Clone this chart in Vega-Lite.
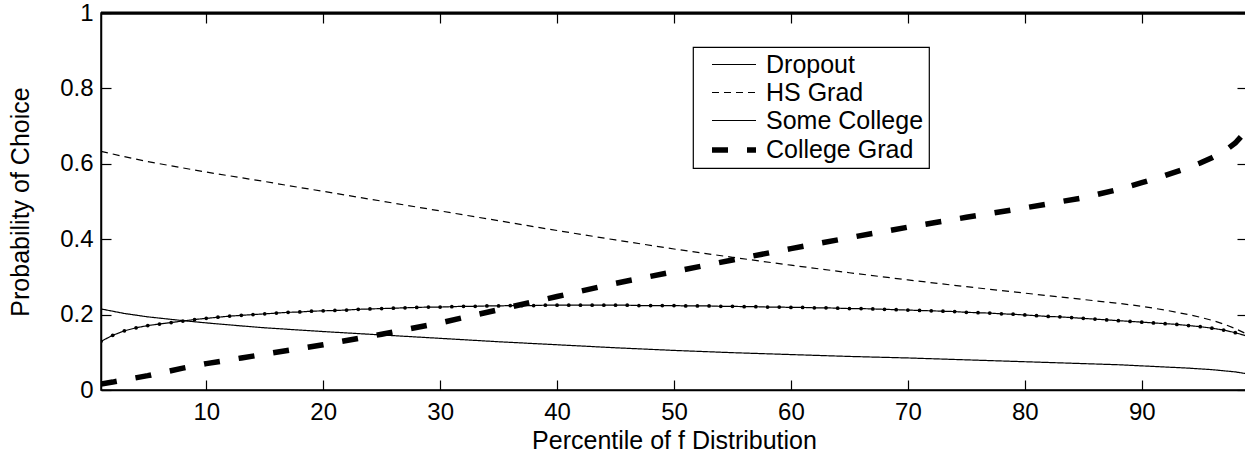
{
  "$schema": "https://vega.github.io/schema/vega-lite/v6.json",
  "autosize": "none",
  "padding": {"left": 101, "top": 13, "right": 0, "bottom": 69},
  "width": 1146,
  "height": 377,
  "background": "white",
  "config": {
    "font": "Liberation Sans",
    "view": {"stroke": "black", "strokeWidth": 1.5},
    "axis": {
      "grid": false,
      "domainColor": "black",
      "domainWidth": 1.5,
      "tickColor": "black",
      "tickWidth": 1.2,
      "tickSize": -10,
      "labelFont": "Liberation Sans",
      "labelFontSize": 24,
      "labelColor": "black",
      "titleFont": "Liberation Sans",
      "titleFontSize": 25,
      "titleFontWeight": "normal",
      "titleColor": "black"
    },
    "legend": {
      "orient": "none",
      "legendX": 592,
      "legendY": 34,
      "padding": 5,
      "strokeColor": "black",
      "strokeWidth": 1.2,
      "fillColor": "white",
      "labelFont": "Liberation Sans",
      "labelFontSize": 25,
      "labelColor": "black",
      "labelOffset": 18,
      "symbolType": "M-2,0H2",
      "symbolSize": 484,
      "symbolStrokeColor": "black",
      "symbolOffset": 22,
      "rowPadding": 2
    }
  },
  "datasets": {
    "main": [
      {"p": 1, "Dropout": 0.215, "HS Grad": 0.633, "College Grad": 0.016},
      {"p": 2, "Dropout": 0.209, "HS Grad": 0.626, "College Grad": 0.021},
      {"p": 3, "Dropout": 0.203, "HS Grad": 0.619, "College Grad": 0.027},
      {"p": 5, "Dropout": 0.194, "HS Grad": 0.606, "College Grad": 0.038},
      {"p": 8, "Dropout": 0.184, "HS Grad": 0.589, "College Grad": 0.058},
      {"p": 10, "Dropout": 0.178, "HS Grad": 0.578, "College Grad": 0.07},
      {"p": 13, "Dropout": 0.170, "HS Grad": 0.563, "College Grad": 0.085},
      {"p": 15, "Dropout": 0.165, "HS Grad": 0.553, "College Grad": 0.095},
      {"p": 18, "Dropout": 0.159, "HS Grad": 0.537, "College Grad": 0.11},
      {"p": 20, "Dropout": 0.155, "HS Grad": 0.527, "College Grad": 0.12},
      {"p": 25, "Dropout": 0.146, "HS Grad": 0.501, "College Grad": 0.148},
      {"p": 30, "Dropout": 0.137, "HS Grad": 0.475, "College Grad": 0.178},
      {"p": 35, "Dropout": 0.128, "HS Grad": 0.449, "College Grad": 0.213},
      {"p": 40, "Dropout": 0.120, "HS Grad": 0.423, "College Grad": 0.248},
      {"p": 45, "Dropout": 0.112, "HS Grad": 0.398, "College Grad": 0.283},
      {"p": 50, "Dropout": 0.105, "HS Grad": 0.374, "College Grad": 0.314},
      {"p": 55, "Dropout": 0.099, "HS Grad": 0.352, "College Grad": 0.345},
      {"p": 60, "Dropout": 0.094, "HS Grad": 0.331, "College Grad": 0.375},
      {"p": 65, "Dropout": 0.089, "HS Grad": 0.311, "College Grad": 0.404},
      {"p": 70, "Dropout": 0.085, "HS Grad": 0.292, "College Grad": 0.432},
      {"p": 75, "Dropout": 0.080, "HS Grad": 0.274, "College Grad": 0.458},
      {"p": 80, "Dropout": 0.075, "HS Grad": 0.257, "College Grad": 0.483},
      {"p": 85, "Dropout": 0.070, "HS Grad": 0.240, "College Grad": 0.51},
      {"p": 88, "Dropout": 0.067, "HS Grad": 0.230, "College Grad": 0.532},
      {"p": 90, "Dropout": 0.064, "HS Grad": 0.222, "College Grad": 0.55},
      {"p": 92, "Dropout": 0.061, "HS Grad": 0.212, "College Grad": 0.569},
      {"p": 94, "Dropout": 0.058, "HS Grad": 0.200, "College Grad": 0.59},
      {"p": 95, "Dropout": 0.056, "HS Grad": 0.193, "College Grad": 0.602},
      {"p": 96, "Dropout": 0.054, "HS Grad": 0.185, "College Grad": 0.616},
      {"p": 97, "Dropout": 0.051, "HS Grad": 0.175, "College Grad": 0.632},
      {"p": 98, "Dropout": 0.048, "HS Grad": 0.163, "College Grad": 0.655},
      {"p": 99, "Dropout": 0.043, "HS Grad": 0.148, "College Grad": 0.69}
    ],
    "sc": [
      {"p": 1, "Some College": 0.129}, {"p": 2, "Some College": 0.145}, {"p": 3, "Some College": 0.157},
      {"p": 4, "Some College": 0.165}, {"p": 5, "Some College": 0.171}, {"p": 6, "Some College": 0.175},
      {"p": 7, "Some College": 0.179}, {"p": 8, "Some College": 0.183}, {"p": 9, "Some College": 0.187},
      {"p": 10, "Some College": 0.190}, {"p": 11, "Some College": 0.193}, {"p": 12, "Some College": 0.196},
      {"p": 13, "Some College": 0.198}, {"p": 14, "Some College": 0.200}, {"p": 15, "Some College": 0.202},
      {"p": 16, "Some College": 0.204}, {"p": 17, "Some College": 0.206}, {"p": 18, "Some College": 0.207},
      {"p": 19, "Some College": 0.209}, {"p": 20, "Some College": 0.210}, {"p": 21, "Some College": 0.211},
      {"p": 22, "Some College": 0.212}, {"p": 23, "Some College": 0.214}, {"p": 24, "Some College": 0.215},
      {"p": 25, "Some College": 0.216}, {"p": 26, "Some College": 0.217}, {"p": 27, "Some College": 0.218},
      {"p": 28, "Some College": 0.219}, {"p": 29, "Some College": 0.220}, {"p": 30, "Some College": 0.220},
      {"p": 31, "Some College": 0.221}, {"p": 32, "Some College": 0.222}, {"p": 33, "Some College": 0.222},
      {"p": 34, "Some College": 0.223}, {"p": 35, "Some College": 0.223}, {"p": 36, "Some College": 0.224},
      {"p": 37, "Some College": 0.224}, {"p": 38, "Some College": 0.224}, {"p": 39, "Some College": 0.225},
      {"p": 40, "Some College": 0.225}, {"p": 41, "Some College": 0.225}, {"p": 42, "Some College": 0.225},
      {"p": 43, "Some College": 0.225}, {"p": 44, "Some College": 0.225}, {"p": 45, "Some College": 0.225},
      {"p": 46, "Some College": 0.225}, {"p": 47, "Some College": 0.224}, {"p": 48, "Some College": 0.224},
      {"p": 49, "Some College": 0.224}, {"p": 50, "Some College": 0.224}, {"p": 51, "Some College": 0.223},
      {"p": 52, "Some College": 0.223}, {"p": 53, "Some College": 0.223}, {"p": 54, "Some College": 0.222},
      {"p": 55, "Some College": 0.222}, {"p": 56, "Some College": 0.221}, {"p": 57, "Some College": 0.221},
      {"p": 58, "Some College": 0.220}, {"p": 59, "Some College": 0.220}, {"p": 60, "Some College": 0.219},
      {"p": 61, "Some College": 0.219}, {"p": 62, "Some College": 0.218}, {"p": 63, "Some College": 0.218},
      {"p": 64, "Some College": 0.217}, {"p": 65, "Some College": 0.216}, {"p": 66, "Some College": 0.216},
      {"p": 67, "Some College": 0.215}, {"p": 68, "Some College": 0.214}, {"p": 69, "Some College": 0.213},
      {"p": 70, "Some College": 0.212}, {"p": 71, "Some College": 0.211}, {"p": 72, "Some College": 0.210},
      {"p": 73, "Some College": 0.209}, {"p": 74, "Some College": 0.208}, {"p": 75, "Some College": 0.206},
      {"p": 76, "Some College": 0.205}, {"p": 77, "Some College": 0.204}, {"p": 78, "Some College": 0.202},
      {"p": 79, "Some College": 0.201}, {"p": 80, "Some College": 0.199}, {"p": 81, "Some College": 0.197},
      {"p": 82, "Some College": 0.195}, {"p": 83, "Some College": 0.194}, {"p": 84, "Some College": 0.192},
      {"p": 85, "Some College": 0.190}, {"p": 86, "Some College": 0.188}, {"p": 87, "Some College": 0.186},
      {"p": 88, "Some College": 0.184}, {"p": 89, "Some College": 0.182}, {"p": 90, "Some College": 0.180},
      {"p": 91, "Some College": 0.178}, {"p": 92, "Some College": 0.176}, {"p": 93, "Some College": 0.174},
      {"p": 94, "Some College": 0.171}, {"p": 95, "Some College": 0.168}, {"p": 96, "Some College": 0.164},
      {"p": 97, "Some College": 0.159}, {"p": 98, "Some College": 0.152}, {"p": 99, "Some College": 0.143}
    ]
  },
  "layer": [
    {
      "data": {"name": "main"},
      "transform": [{"fold": ["Dropout", "HS Grad", "College Grad"], "as": ["series", "v"]}],
      "mark": {"type": "line", "color": "black", "strokeCap": "butt", "clip": true},
      "encoding": {
        "x": {"field": "p", "type": "quantitative", "scale": {"domain": [1, 99], "nice": false, "zero": false},
              "axis": {"orient": "bottom", "values": [10, 20, 30, 40, 50, 60, 70, 80, 90], "title": "Percentile of f Distribution", "labelPadding": 20, "titlePadding": 4}},
        "y": {"field": "v", "type": "quantitative", "scale": {"domain": [0, 1], "nice": false},
              "axis": {"orient": "left", "values": [0, 0.2, 0.4, 0.6, 0.8, 1], "format": ".1~f", "title": "Probability of Choice", "labelPadding": 18, "titlePadding": 26}},
        "detail": {"field": "series"},
        "strokeDash": {"field": "series", "type": "nominal",
          "scale": {"type": "ordinal", "domain": ["Dropout", "HS Grad", "Some College", "College Grad"], "range": [[1, 0], [7, 5], [1, 0], [16, 19]]},
          "legend": {"title": null, "symbolType": "M-2,0H2", "encode": {"symbols": {"update": {"stroke": {"value": "black"}, "fill": {"value": "transparent"}, "strokeOpacity": {"value": 1}}}}}},
        "strokeWidth": {"field": "series", "type": "nominal",
          "scale": {"type": "ordinal", "domain": ["Dropout", "HS Grad", "Some College", "College Grad"], "range": [1.2, 1.2, 1.2, 5.5]},
          "legend": {"title": null}}
      }
    },
    {
      "data": {"name": "sc"},
      "transform": [{"fold": ["Some College"], "as": ["series", "v"]}],
      "mark": {"type": "line", "color": "black", "clip": true, "point": {"filled": true, "size": 14, "color": "black", "opacity": 1}},
      "encoding": {
        "x": {"field": "p", "type": "quantitative", "scale": {"domain": [1, 99], "nice": false, "zero": false},
              "axis": {"values": [10, 20, 30, 40, 50, 60, 70, 80, 90], "labels": false, "title": null, "domain": true, "ticks": true, "domainWidth": 2}},
        "y": {"field": "v", "type": "quantitative", "scale": {"domain": [0, 1], "nice": false},
              "axis": {"values": [0, 0.2, 0.4, 0.6, 0.8, 1], "labels": false, "title": null, "domain": true, "ticks": true}},
        "strokeDash": {"field": "series", "type": "nominal",
          "scale": {"type": "ordinal", "domain": ["Dropout", "HS Grad", "Some College", "College Grad"], "range": [[1, 0], [7, 5], [1, 0], [16, 19]]},
          "legend": {"title": null}},
        "strokeWidth": {"field": "series", "type": "nominal",
          "scale": {"type": "ordinal", "domain": ["Dropout", "HS Grad", "Some College", "College Grad"], "range": [1.2, 1.2, 1.2, 5.5]},
          "legend": {"title": null}}
      }
    },
    {
      "data": {"values": [{"top": 1}]},
      "mark": {"type": "rule", "color": "black", "strokeWidth": 3},
      "encoding": {
        "y": {"field": "top", "type": "quantitative", "scale": {"domain": [0, 1], "nice": false}, "axis": null}
      }
    }
  ],
  "resolve": {"axis": {"x": "independent", "y": "independent"}}
}
